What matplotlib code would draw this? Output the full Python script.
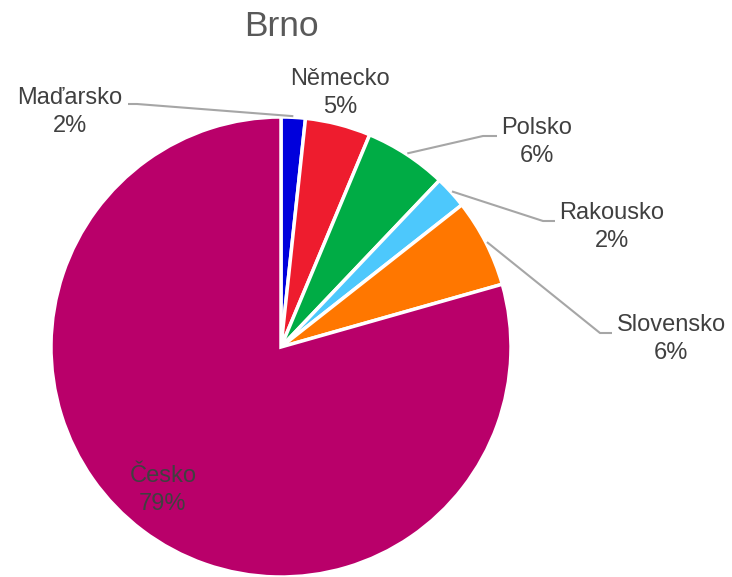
import numpy as np
import matplotlib
matplotlib.use("Agg")
import matplotlib.pyplot as plt

plt.rcParams['font.family'] = ['Liberation Sans', 'DejaVu Sans']

# Share of visitors by country of origin
countries = ["Maďarsko", "Německo", "Polsko", "Rakousko", "Slovensko", "Česko"]
shares = [1.7, 4.6, 5.8, 2.3, 6.2, 79.4]
colors = ["#0000DC", "#EE1C2E", "#00AC45", "#4DC8FC", "#FF7700", "#B9006A"]

W, H, DPI = 732, 577, 100
fig = plt.figure(figsize=(W / DPI, H / DPI), dpi=DPI)

# pie placement in pixels (centre and radius)
cx, cy, r = 281, 347, 230
ax = fig.add_axes([(cx - r) / W, (H - cy - r) / H, 2 * r / W, 2 * r / H])

wedges, _ = ax.pie(shares, colors=colors, startangle=90, counterclock=False,
                   radius=1.0, wedgeprops=dict(edgecolor="white", linewidth=2.5),
                   center=(0, 0))
ax.set_xlim(-1, 1)
ax.set_ylim(-1, 1)
ax.set_aspect("equal")
ax.axis("off")


def px(x, y):
    """Pixel position in the figure -> pie data coordinates."""
    return (x - cx) / r, (cy - y) / r


# label centre (pixels) and optional leader elbow/end (pixels)
layout = {
    "Maďarsko": dict(text=(70, 112), elbow=(137, 104), end=(128, 104)),
    "Německo": dict(text=(340, 93)),
    "Polsko": dict(text=(537, 142), elbow=(483, 136), end=(497, 136)),
    "Rakousko": dict(text=(612, 227), elbow=(543, 221), end=(555, 221)),
    "Slovensko": dict(text=(671, 339), elbow=(600, 333), end=(612, 333)),
    "Česko": dict(text=(163, 490)),
}

txt_color = "#404040"
for w, name, v in zip(wedges, countries, shares):
    spec = layout[name]
    tx, ty = px(*spec["text"])
    ax.text(tx, ty, f"{name}\n{round(v)}%", ha="center", va="center",
            fontsize=17, color=txt_color, linespacing=1.3, clip_on=False)
    if "elbow" in spec:
        mid = np.deg2rad((w.theta1 + w.theta2) / 2)
        sx, sy = np.cos(mid) * 1.005, np.sin(mid) * 1.005
        ex, ey = px(*spec["elbow"])
        fx, fy = px(*spec["end"])
        ax.plot([sx, ex, fx], [sy, ey, fy], color="#A6A6A6", lw=1.5,
                solid_capstyle="butt", clip_on=False)

fig.text(281 / W, 1 - 27 / H, "Brno", ha="center", va="center",
         fontsize=25.5, color="#595959")

fig.savefig("out.png", dpi=DPI, facecolor="white")
